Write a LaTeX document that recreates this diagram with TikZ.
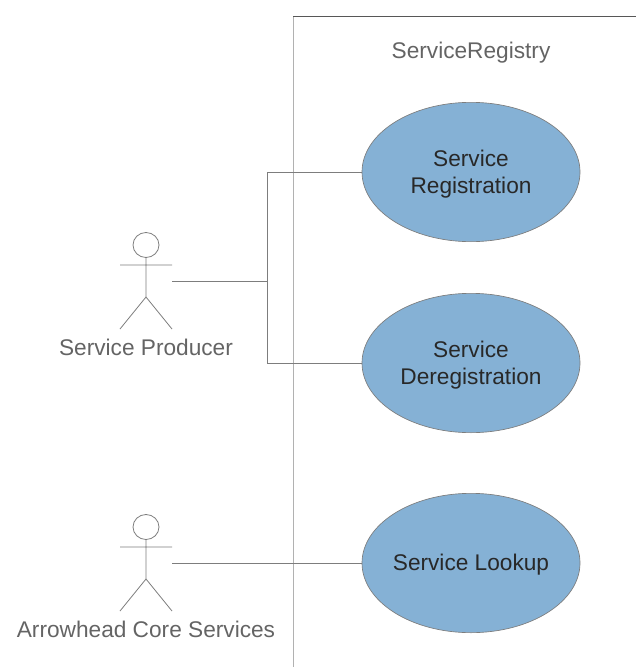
\documentclass[tikz,border=0pt]{standalone}
\usepackage{fontspec}
\setmainfont{Liberation Sans}
\usetikzlibrary {shapes.geometric}

\definecolor{usecaseblue}{RGB}{133,177,213}
\definecolor{linegray}{RGB}{125,125,125}
\definecolor{labelgray}{RGB}{100,100,100}
\definecolor{usecasetext}{RGB}{40,40,40}

\tikzset{
  usecase/.style={ellipse, draw=linegray, line width=.5pt, fill=usecaseblue, inner sep=0pt,
    minimum width=163.5pt, minimum height=104.5pt, align=center, text=usecasetext},
  usecasetxt/.style={align=center, text=usecasetext, inner sep=0pt, font=\fontsize{17}{20.5}\selectfont},
  actorlabel/.style={text=labelgray, inner sep=0pt, font=\fontsize{17}{20}\selectfont},
  actorline/.style={draw=linegray, line width=.6pt},
  wire/.style={draw=linegray, line width=.7pt}
}

\begin{document}
\begin{tikzpicture}[x=.75pt, y=-.75pt]
  \useasboundingbox (0,0) rectangle (636,667);

  % Draw the system boundary, open at the right and at the bottom
  \draw[linegray!60!white, line width=.7pt] (293,667) -- (293,16);
  \draw[linegray!70!black, line width=.7pt] (293,16) -- (636,16);
  \node[actorlabel] (registry) at (471,53) {ServiceRegistry};

  % Draw the three use cases
  \node[usecase] (registration) at (471,172) {};
  \node[usecase] (deregistration) at (471,363) {};
  \node[usecase] (lookup) at (471,563) {};
  \node[usecasetxt] (registrationtxt) at (471,174) {Service\\Registration};
  \node[usecasetxt] (deregistrationtxt) at (471,365) {Service\\Deregistration};
  \node[usecasetxt] (lookuptxt) at (471,564.5) {Service Lookup};

  % Draw the producer stick figure
  \draw[actorline] (146,245) circle[x radius=13, y radius=12.5];
  \draw[actorline] (146,257.5) -- (146,297) (120,265) -- (172,265) (120,329) -- (146,297) -- (172,329);
  \node[actorlabel] (producer) at (146,347) {Service Producer};

  % Draw the core services stick figure
  \draw[actorline] (146,527) circle[x radius=13, y radius=12.5];
  \draw[actorline] (146,539.5) -- (146,579) (120,547) -- (172,547) (120,611) -- (146,579) -- (172,611);
  \node[actorlabel] (core) at (146,629) {Arrowhead Core Services};

  % Connect the figures to the use cases
  \coordinate (producerhand) at (172,281);
  \coordinate (fork) at (267,281);
  \coordinate (corehand) at (172,563);
  \draw[wire] (producerhand) -- (fork);
  \draw[wire] (fork |- registration.west) -- (registration.west);
  \draw[wire] (fork |- deregistration.west) -- (deregistration.west);
  \draw[wire] (fork |- registration.west) -- (fork |- deregistration.west);
  \draw[wire] (corehand) -- (lookup.west);
\end{tikzpicture}
\end{document}
